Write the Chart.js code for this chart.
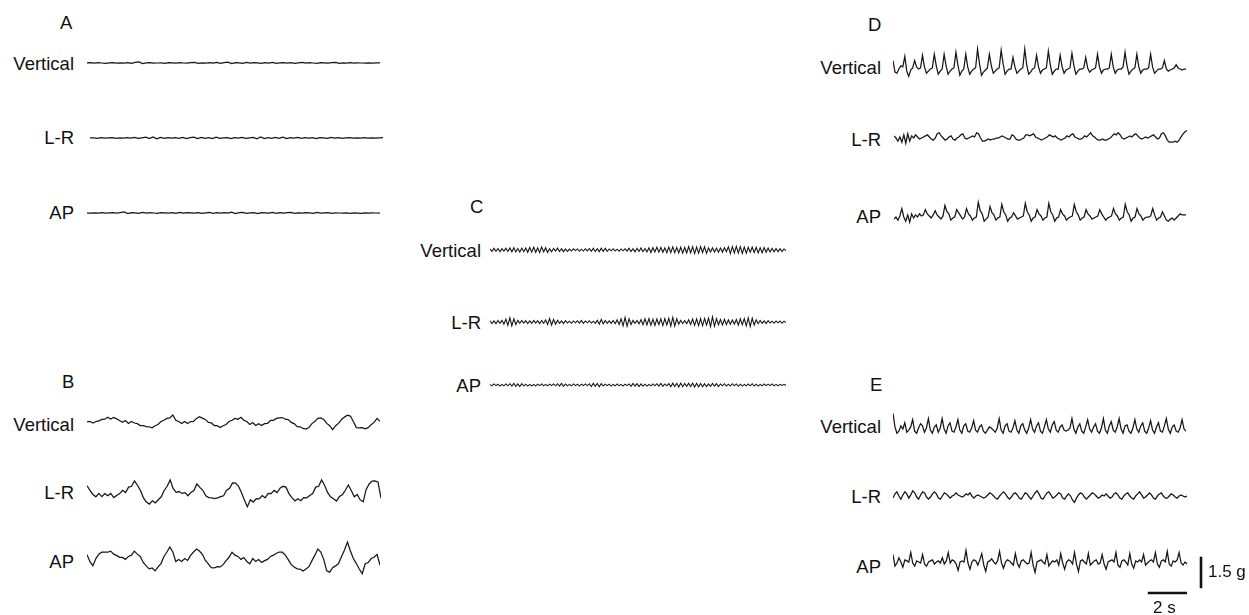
<!DOCTYPE html>
<html>
<head>
<meta charset="utf-8">
<title>Accelerometer recordings</title>
<script src="https://cdn.jsdelivr.net/npm/chart.js@4.4.0/dist/chart.umd.min.js"></script>
<style>
  body { margin: 0; background: #fff; }
  #figure { position: relative; width: 1249px; height: 615px; overflow: hidden;
            font-family: "Liberation Sans", Arial, Helvetica, sans-serif; color: #111; }
  #figure canvas { position: absolute; }
  .lbl { position: absolute; font-size: 18.5px; line-height: 20px; white-space: nowrap; }
</style>
</head>
<body>
<div id="figure"></div>
<script>
// ---- data (acceleration in g, evenly sampled over TRACE_SECONDS) ----
const TRACE_SECONDS = 15;
const panelLetters = ['A', 'B', 'C', 'D', 'E'];
const axisNames = ['Vertical', 'L-R', 'AP'];
const scaleBarG = 1.5;
const scaleBarS = 2;
const scaleLabels = ['1.5 g', '2 s'];

const aVertical = [0,.02,-.01,.02,0,-.02,.01,.02,-.01,.01, 0,.02,-.02,.03,.05,-.03,.01,.02,-.01,0,
  .01,-.02,.02,.01,-.01,.02,0,-.01,.02,.03, -.02,.01,0,.02,-.01,.03,-.02,.02,.04,-.03,
  .02,.01,-.02,.03,-.01,.02,.01,-.02,.02,0, .03,-.02,.01,.02,-.01,.02,-.02,.01,.03,-.01,
  .02,0,-.02,.02,.01,-.01,.02,.03,-.02,.01, 0,.02,-.01,.01,0,-.01,.01,0,.01,0];
const aLR = [0,.01,-.02,.02,-.01,.01,.02,-.02,.01,0, .02,-.01,.03,-.02,.01,.04,-.03,.05,-.04,.03,
  -.02,.02,-.01,.02,-.02,.03,-.03,.02,.04,-.03, .03,-.02,.02,-.03,.04,-.02,.01,.02,-.03,.02,
  -.01,.03,-.02,.01,.03,-.04,.05,-.03,.02,-.02, .03,-.02,.04,-.03,.02,-.01,.03,-.02,.02,-.01,
  .02,-.03,.02,.01,-.02,.03,-.01,.02,-.02,.01, .02,-.01,.01,0,.02,-.01,.01,0,.01,.02];
const aAP = [0,-.01,.01,0,.02,-.01,.01,.02,-.01,.02, .05,-.03,.02,.01,-.02,.03,-.01,.02,0,-.02,
  .02,.01,-.01,.02,-.02,.03,-.01,.02,.01,-.01, .02,-.02,.01,.03,-.02,.02,0,.02,-.01,.04,
  -.03,.02,.03,-.02,.01,.02,-.03,.02,.01,-.01, .03,-.02,.02,-.01,.02,.03,-.02,.01,-.01,.02,
  .01,-.02,.03,-.01,.01,.02,-.02,.01,0,-.01, .01,-.02,0,-.01,-.02,0,-.01,.01,0,-.01];

const bVertical = [.05,.08,0,.07,.1,.17,.18,.27,.19,.26, .2,.12,.03,.12,-.02,.07,0,-.03,-.12,-.13,
  -.17,-.18,-.23,-.13,-.07,.07,.13,.22,.24,.38, .13,.07,-.02,.07,-.02,.07,.08,.22,.3,.23,
  .17,.03,.01,-.12,-.13,-.22,-.13,-.07,.07,.13, .22,.18,.27,.13,.07,-.07,.02,-.12,-.03,-.12,
  -.03,-.02,.12,.13,.22,.24,.26,.18,.16,.03, -.03,-.17,-.18,-.26,-.29,-.22,-.03,.08,.22,.24,
  .17,-.02,-.13,-.32,-.13,-.02,.17,.28,.37,.33, .07,-.22,-.23,-.22,-.28,-.22,-.08,.03,.22,.08];
const bLR = [.35,.12,-.07,-.18,-.02,-.17,-.03,-.13,-.02,-.22, -.12,-.03,.13,.02,.28,.32,.57,.37,.12,-.23,
  -.43,-.53,-.37,-.47,-.32,-.18,.12,.32,.62,.22, .03,.07,-.02,.02,-.13,.03,.12,.43,.27,.13,
  -.13,-.22,-.23,-.27,-.23,-.17,-.13,.13,.22,.48, .47,.33,.02,-.33,-.65,-.32,-.43,-.27,-.28,-.12,
  -.23,-.02,-.03,.13,.02,.23,.32,.28,-.03,-.22, -.38,-.27,-.37,-.22,-.23,-.12,-.03,.28,.32,.62,
  .37,.03,-.18,-.27,-.38,-.17,-.08,.13,.38,.12, -.18,-.07,-.33,-.42,.17,.43,.57,.58,.52,-.25];
const bAP = [.25,-.08,-.27,.07,.28,.37,.38,.37,.42,.28, .22,.13,.12,.03,.17,.23,.42,.28,.17,-.12,
  -.28,-.42,-.38,-.52,-.33,-.17,.17,.38,.62,.38, -.07,.02,-.07,.07,-.02,.22,.38,.52,.43,.27,
  -.02,-.18,-.37,-.38,-.32,-.33,-.22,-.03,.13,.37, .23,.17,.03,.12,-.07,-.18,.07,-.07,.02,-.12,
  -.03,.03,.17,.23,.32,.38,.37,.23,.02,-.22, -.33,-.42,-.43,-.52,-.43,-.32,-.03,.23,.52,.38,
  .02,-.52,-.58,-.37,-.28,-.17,.17,.48,.85,.43, .07,-.17,-.43,-.65,-.18,-.12,.07,.13,.27,-.25];

const cVertical = [.05,-.07,.08,-.06,.07,-.08,.06,-.05,.08,-.07, .1,-.08,.11,-.09,.07,-.1,.09,-.08,.1,-.11,
  .12,-.1,.13,-.11,.1,-.12,.14,-.09,.11,-.12, .06,-.08,.07,-.05,.09,-.07,.06,-.08,.05,-.07,
  .04,-.05,.06,-.03,.05,-.06,.04,-.05,.06,-.04, .07,-.06,.08,-.07,.06,-.08,.09,-.07,.08,-.06,
  .05,-.04,.06,-.05,.04,-.06,.05,-.04,.06,-.05, .08,-.07,.06,-.09,.08,-.07,.1,-.08,.07,-.09,
  .1,-.12,.11,-.09,.13,-.1,.12,-.11,.1,-.13, .14,-.12,.15,-.13,.12,-.14,.13,-.15,.12,-.14,
  .16,-.13,.15,-.17,.14,-.15,.16,-.12,.15,-.16, .1,-.09,.11,-.1,.08,-.11,.09,-.1,.11,-.08,
  .15,-.17,.16,-.14,.17,-.15,.16,-.16,.14,-.15, .13,-.11,.14,-.12,.13,-.14,.11,-.13,.12,-.11,
  .09,-.1,.08,-.09,.07,-.08,.06,-.07,.05,-.03];
const cLR = [.06,-.07,.05,-.08,.07,-.06,.08,-.1,.14,-.16, .2,-.18,.15,-.12,.08,-.06,.07,-.05,.06,-.07,
  .05,-.06,.07,-.05,.06,-.08,.07,-.06,.1,-.12, .16,-.14,.12,-.1,.08,-.06,.05,-.07,.06,-.05,
  .04,-.06,.05,-.04,.06,-.05,.07,-.06,.05,-.04, .06,-.05,.04,-.06,.08,-.1,.12,-.09,.07,-.06,
  .05,-.06,.07,-.08,.1,-.12,.15,-.18,.22,-.2, .15,-.12,.08,-.06,.07,-.09,.11,-.13,.15,-.14,
  .16,-.15,.13,-.16,.14,-.12,.15,-.17,.16,-.14, .18,-.2,.22,-.19,.15,-.1,.08,-.07,.06,-.08,
  .1,-.12,.14,-.16,.15,-.17,.16,-.18,.17,-.15, .18,-.22,.24,-.2,.16,-.13,.12,-.14,.13,-.12,
  .1,-.11,.09,-.1,.12,-.14,.15,-.13,.16,-.18, .2,-.22,.18,-.14,.1,-.08,.07,-.06,.05,-.07,
  .06,-.05,.04,-.06,.05,-.04,.05,-.06,.04,-.03];
const cAP = [.03,-.04,.05,-.03,.04,-.05,.03,-.04,.05,-.04, .06,-.05,.07,-.06,.05,-.07,.06,-.05,.04,-.05,
  .03,-.04,.03,-.05,.04,-.03,.05,-.04,.03,-.04, .04,-.03,.05,-.04,.06,-.05,.07,-.06,.05,-.04,
  .03,-.04,.05,-.03,.04,-.05,.04,-.03,.05,-.04, .06,-.07,.08,-.06,.07,-.08,.06,-.05,.04,-.03,
  .04,-.05,.03,-.04,.05,-.04,.03,-.05,.04,-.03, .05,-.06,.07,-.05,.06,-.07,.05,-.06,.04,-.05,
  .03,-.04,.05,-.04,.06,-.05,.07,-.06,.05,-.04, .06,-.08,.09,-.07,.08,-.1,.09,-.08,.07,-.06,
  .08,-.07,.09,-.1,.08,-.09,.07,-.08,.06,-.07, .05,-.06,.07,-.05,.06,-.07,.05,-.04,.06,-.05,
  .04,-.05,.06,-.04,.05,-.06,.04,-.05,.03,-.04, .05,-.04,.06,-.05,.04,-.05,.03,-.04,.05,-.03,
  .04,-.03,.05,-.04,.03,-.04,.03,-.02,.03,-.02];

const dVertical = [.4,-.15,-.2,0,.15,.1,.6,-.1,-.35,-.05, .05,.4,.1,0,.05,.65,.1,-.2,-.1,0,
  .05,.7,.15,-.25,-.1,0,.7,.15,-.25,-.1, 0,.05,.8,.2,-.3,-.1,0,.7,.1,-.25,
  -.1,0,.05,.95,.25,-.3,-.15,-.05,.05,.7, .15,-.2,-.1,0,.05,.9,.25,-.25,-.1,0,
  0,.55,.1,-.2,-.1,0,.05,.95,.2,-.25, -.15,0,.05,.65,.1,-.2,-.05,0,.05,.85,
  .2,-.25,-.1,0,0,.65,.1,-.2,-.05,0, .05,.75,.15,-.25,-.1,0,0,.05,.55,.05,
  -.15,-.05,0,.05,.7,.1,-.2,-.05,0,0, .05,.7,.1,-.2,-.05,0,0,.1,.8,.15,
  -.25,-.1,0,.05,.7,.1,-.2,-.05,0,0, .05,.7,.1,-.2,-.1,0,0,.05,.4,0,
  -.1,-.05,0,.05,.2,.05,0,-.05,0,0];
const dLR = [.1,0,-.15,.05,-.2,.15,-.25,.2,-.15,.1, 0,.15,.05,-.05,0,.05,.1,.15,.05,-.05,
  -.1,0,.2,.25,.1,0,-.1,-.05,.05,.1, -.05,-.1,0,.05,.15,.2,0,-.05,0,.05,
  .1,.05,.25,.2,0,-.15,-.15,-.1,-.05,-.1, -.05,-.05,0,0,.05,.1,.05,0,-.05,-.05,
  .15,.1,-.05,-.1,-.1,-.05,0,.15,.15,.1, .15,.2,.05,0,-.05,-.1,-.05,0,.05,.15,
  .1,.05,.1,0,-.05,-.1,-.05,0,.1,.05, .15,.2,.05,0,-.05,-.05,0,.1,.05,.15,
  .25,.1,.05,-.05,-.1,-.1,-.05,-.1,-.1,-.05, 0,.1,.2,.15,.25,.15,0,-.05,0,.05,
  .1,.05,.15,.2,.1,0,-.05,0,.05,0, .05,.1,.15,.05,-.05,0,.2,.25,.1,-.1,
  -.2,-.2,-.2,-.15,-.2,-.1,.05,.2,.3,.35];
const dAP = [-.1,0,-.15,.05,.4,0,-.2,.1,-.25,.15, -.05,.1,0,.15,.05,.1,.35,.15,.05,-.05,
  .1,.3,.1,0,-.1,.05,.55,.25,.15,-.15, -.05,0,.35,.2,.05,-.1,0,.4,.15,.05,
  -.15,-.05,0,.7,.3,.15,-.2,-.1,0,.5, .2,.1,-.15,-.05,0,.6,.25,.1,-.2,-.05,
  0,.2,.05,-.1,-.05,0,.05,.65,.25,.1, -.2,-.05,0,.35,.15,.05,-.15,-.05,0,.65,
  .25,.1,-.2,-.05,0,.35,.15,.05,-.15,-.05, 0,.05,.6,.25,.1,-.15,-.05,0,.35,.15,
  .05,-.1,-.05,0,.05,.35,.15,0,-.15,-.05, 0,.05,.4,.15,.05,-.15,-.05,0,.6,.25,
  .1,-.2,-.05,0,.4,.15,.05,-.15,-.05,0, 0,.05,.4,.1,-.15,-.05,0,.25,.05,-.15,
  -.2,-.1,-.05,-.15,-.05,.05,.15,.1,.1,.1];

const eVertical = [.7,.05,-.25,-.15,.1,-.05,.25,-.2,-.1,.05, .4,-.15,-.25,0,.2,.1,-.2,0,.45,-.1,
  -.25,.05,.15,-.2,0,.45,-.05,-.25,.1,.25, -.15,-.2,.05,.4,-.1,-.25,.1,.2,-.15,-.2,
  0,.35,-.1,-.2,.05,.15,-.15,-.25,-.1,.05, 0,-.1,-.2,0,.45,-.1,-.25,.1,.2,-.15,
  -.2,0,.35,-.1,-.25,.1,.2,-.1,-.25,0, .4,-.05,-.2,.1,.25,-.15,-.25,.05,.4,-.05,
  -.2,.15,.3,-.1,-.2,.05,.15,-.1,-.15,-.1, 0,.45,-.05,-.25,.05,.2,-.15,-.25,.05,.4,
  -.05,-.2,.05,.2,-.15,-.25,0,.45,-.1,-.25, .1,.3,-.1,-.2,.05,.45,-.05,-.25,.1,.15,
  -.15,-.25,0,.4,-.05,-.2,.1,.25,-.15,-.25, 0,.35,-.1,-.25,.05,.25,-.15,-.2,.1,.45,
  -.05,-.25,.05,.15,-.15,-.2,0,.4,-.05,-.15];
const eLR = [-.1,.1,.2,0,-.15,.05,.2,.1,-.1,.05, .25,.15,-.05,-.15,.05,.2,.15,-.05,-.15,-.05,
  .1,.2,.1,-.1,-.15,0,.15,.1,0,-.1, 0,.05,.15,.05,0,-.05,0,.1,.05,.15,
  0,-.1,0,.05,0,-.05,-.1,-.05,.05,.15, .1,0,-.1,-.15,0,.1,.2,.1,-.05,-.15,
  -.05,.1,.15,.05,-.1,-.15,0,.15,.1,-.05, -.15,0,.15,.25,.1,-.1,-.15,0,.15,.2,
  .05,-.1,-.05,.05,.15,.1,-.1,-.15,0,.1, 0,-.2,-.3,-.1,.05,.15,.1,-.05,-.15,-.05,
  .05,.15,.1,0,-.1,-.05,.05,0,.1,0, -.1,-.05,.1,.15,.05,-.1,-.15,0,.1,.15,
  0,-.1,-.15,0,.1,.2,.05,-.1,-.05,.05, .15,.05,-.1,-.15,0,.1,.15,0,-.1,-.1,
  0,.1,.05,-.05,-.1,0,.05,0,-.05,0];
const eAP = [.4,-.15,0,.25,.05,-.2,.15,.1,.05,.5, 0,-.15,.1,.05,0,.4,-.05,-.15,.05,.1,
  .15,-.05,.05,.1,0,.25,-.05,.1,.5,0, .15,.1,-.05,-.35,.05,.1,.05,.6,0,-.3,
  .05,.15,.1,-.1,.15,.45,-.1,-.4,.05,.1, .2,.05,-.05,.1,.55,0,-.25,.05,.15,.1,
  0,-.1,.45,0,-.2,.1,.15,.05,-.05,0, .5,-.1,-.45,.05,.1,.15,.05,-.05,.4,-.15,
  0,.1,.05,.15,-.1,.45,0,-.3,.05,.15, .1,-.05,.5,-.05,-.4,.1,.15,.05,-.05,.45,
  -.1,0,.1,.15,-.05,0,.4,-.05,-.3,.05, .1,.15,.05,.5,-.1,-.2,.1,.15,.05,-.1,
  .45,-.05,-.25,.1,.05,.15,.05,.4,-.1,0, .1,.15,.05,.5,-.05,-.2,.1,.15,.05,.55,
  -.05,-.15,.1,.05,.15,.5,0,-.1,.05,-.05];

// ---- layout (pixels) ----
const PX_PER_G = 21;
const TRACE_H = 60;
const panels = [
  { letter: panelLetters[0], lx: 60, ly: 23, labelRight: 74, rows: [
    { data: aVertical, x: 87, y: 63, w: 293, ly: 64 },
    { data: aLR, x: 90, y: 138, w: 293, ly: 138 },
    { data: aAP, x: 87, y: 213, w: 293, ly: 213 }] },
  { letter: panelLetters[1], lx: 62, ly: 382, labelRight: 74, rows: [
    { data: bVertical, x: 87, y: 423, w: 293, ly: 425 },
    { data: bLR, x: 87, y: 493, w: 294, ly: 493 },
    { data: bAP, x: 87, y: 560, w: 293, ly: 562 }] },
  { letter: panelLetters[2], lx: 470, ly: 207, labelRight: 481, rows: [
    { data: cVertical, x: 490, y: 250, w: 296, ly: 251, lw: 1.1 },
    { data: cLR, x: 490, y: 322, w: 296, ly: 323, lw: 1.1 },
    { data: cAP, x: 490, y: 385, w: 296, ly: 386, lw: 1.1 }] },
  { letter: panelLetters[3], lx: 868, ly: 25, labelRight: 881, rows: [
    { data: dVertical, x: 893, y: 69, w: 293, ly: 68 },
    { data: dLR, x: 894, y: 138, w: 293, ly: 140 },
    { data: dAP, x: 894, y: 217, w: 292, ly: 217 }] },
  { letter: panelLetters[4], lx: 870, ly: 385, labelRight: 881, rows: [
    { data: eVertical, x: 893, y: 428, w: 293, ly: 427 },
    { data: eLR, x: 893, y: 496, w: 294, ly: 497 },
    { data: eAP, x: 893, y: 563, w: 294, ly: 567, scaleBars: true }] }
];

const fig = document.getElementById('figure');

function addLabel(text, left, right, cy) {
  const el = document.createElement('div');
  el.className = 'lbl';
  el.textContent = text;
  if (left !== null) el.style.left = left + 'px';
  if (right !== null) el.style.right = (1249 - right) + 'px';
  el.style.top = (cy - 10) + 'px';
  fig.appendChild(el);
  return el;
}

// scale bars drawn from the E/AP trace's own scales
const scaleBarPlugin = {
  id: 'scaleBars',
  afterDraw(chart) {
    const { ctx, scales: { x, y } } = chart;
    ctx.save();
    ctx.strokeStyle = '#111';
    ctx.lineWidth = 2.6;
    const bx = x.getPixelForValue(TRACE_SECONDS) + 14;
    ctx.beginPath();
    ctx.moveTo(bx, y.getPixelForValue(0.3));
    ctx.lineTo(bx, y.getPixelForValue(0.3 - scaleBarG));
    ctx.stroke();
    const by = y.getPixelForValue(-1.43);
    ctx.beginPath();
    ctx.moveTo(x.getPixelForValue(TRACE_SECONDS - scaleBarS), by);
    ctx.lineTo(x.getPixelForValue(TRACE_SECONDS), by);
    ctx.stroke();
    ctx.restore();
  }
};

function drawTrace(row) {
  const padRight = row.scaleBars ? 24 : 0;
  const padBottom = row.scaleBars ? 40 : 0;
  const canvas = document.createElement('canvas');
  const w = row.w + padRight;
  const h = TRACE_H + padBottom;
  canvas.width = w;
  canvas.height = h;
  canvas.style.width = w + 'px';
  canvas.style.height = h + 'px';
  canvas.style.left = row.x + 'px';
  canvas.style.top = (row.y - TRACE_H / 2) + 'px';
  fig.appendChild(canvas);

  const n = row.data.length;
  const points = row.data.map((v, i) => ({ x: i * TRACE_SECONDS / (n - 1), y: v }));
  const yMax = TRACE_H / 2 / PX_PER_G;

  return new Chart(canvas, {
    type: 'line',
    data: {
      datasets: [{
        data: points,
        borderColor: '#161616',
        borderWidth: row.lw || 1.25,
        pointRadius: 0,
        tension: 0,
        fill: false,
        clip: false
      }]
    },
    options: {
      responsive: false,
      animation: false,
      events: [],
      layout: { padding: { left: 0, top: 0, right: padRight, bottom: padBottom } },
      plugins: { legend: { display: false }, tooltip: { enabled: false } },
      scales: {
        x: { type: 'linear', display: false, min: 0, max: TRACE_SECONDS },
        y: { display: false, min: -yMax, max: yMax }
      }
    },
    plugins: row.scaleBars ? [scaleBarPlugin] : []
  });
}

panels.forEach(p => {
  addLabel(p.letter, p.lx, null, p.ly);
  p.rows.forEach((row, i) => {
    addLabel(axisNames[i], null, p.labelRight, row.ly);
    drawTrace(row);
  });
});

// scale bar captions
const gLabel = addLabel(scaleLabels[0], 1208, null, 572);
gLabel.style.fontSize = '17px';
const sLabel = addLabel(scaleLabels[1], 1153, null, 608);
sLabel.style.fontSize = '17px';
</script>
</body>
</html>
